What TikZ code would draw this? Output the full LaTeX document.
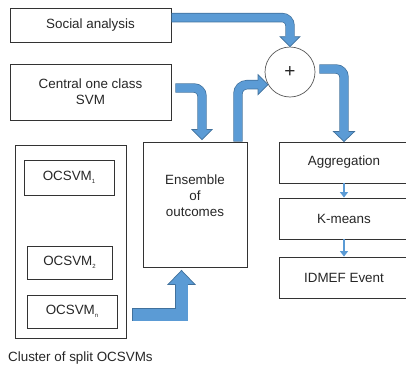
\documentclass[tikz,border=0pt]{standalone}
\usepackage{fontspec}
\setmainfont{Liberation Sans}
\usetikzlibrary{calc,arrows.meta}
\definecolor{afill}{HTML}{5B9BD5}
\definecolor{aline}{HTML}{41719C}
\definecolor{boxline}{HTML}{333333}
\definecolor{txt}{HTML}{262626}
\newcommand\bhead[5]{%
  \begin{scope}[shift={#1}, rotate=#2]
    \fill[afill] (0,0) -- (-#3,#4) -- (-#3,-#4) -- cycle;
    \draw[aline, line width=0.7pt, line join=miter] (-#3,#5) -- (-#3,#4) -- (0,0) -- (-#3,-#4) -- (-#3,-#5);
  \end{scope}}
\newcommand\lowsub[1]{\raisebox{-2.5pt}{\fontsize{6}{6}\selectfont #1}}
\begin{document}
\begin{tikzpicture}[x=1pt,y=-1pt,
  lbl/.style={text=txt, font=\fontsize{13.4}{16}\selectfont, align=center, inner sep=0pt},
  blk/.style={lbl, draw=boxline, line width=0.9pt},
  shaftB/.style={draw=aline, line width=9.4pt},
  shaftF/.style={draw=afill, line width=8pt, shorten <=0.7pt, shorten >=-0.4pt},
  shaftBw/.style={draw=aline, line width=13.4pt},
  shaftFw/.style={draw=afill, line width=12pt, shorten <=0.7pt, shorten >=-0.4pt},
  small/.style={draw=afill, line width=2.8pt, -{Triangle[length=5.5pt,width=8pt]}}]
\clip (0,0) rectangle (406,367);
% boxes
\node[blk, minimum width=161pt, minimum height=34pt] (soc) at (90.5,25) {Social analysis};
\node[blk, minimum width=161pt, minimum height=56pt] (cen) at (90.5,92) {Central one class\\SVM};
\node[circle, draw=black!65, line width=0.7pt, minimum size=50pt, inner sep=0pt, text=txt, font=\fontsize{19}{19}\selectfont] (circ) at (290,72) {+};
\node[blk, minimum width=111pt, minimum height=193pt] (clu) at (70.5,241.5) {};
\node[blk, minimum width=90pt, minimum height=35pt] (o1) at (69,177.5) {OCSVM\lowsub{1}};
\node[blk, minimum width=85pt, minimum height=33pt] (o2) at (69.5,262.5) {OCSVM\lowsub{2}};
\node[blk, minimum width=90pt, minimum height=33pt] (on) at (72,311.5) {OCSVM\lowsub{n}};
\node[blk, minimum width=104pt, minimum height=125pt] (ens) at (195,204.5) {};
\node[lbl] (enst) at (195,195.5) {Ensemble\\of\\outcomes};
\node[blk, minimum width=130pt, minimum height=41pt] (agg) at (344,162.5) {Aggregation};
\node[blk, minimum width=130pt, minimum height=41pt] (km) at (344,218.5) {K-means};
\node[blk, minimum width=130pt, minimum height=41pt] (idm) at (344,277.5) {IDMEF Event};
\node[lbl, anchor=base west] (cap) at (8,361) {Cluster of split OCSVMs};
% arrow 1: social analysis -> circle
\coordinate (a1s) at ($(soc.north east)+(0,10)$);
\coordinate (a1e) at ($(circ.north)+(0,-10)$);
\draw[shaftB, rounded corners=8pt] (a1s) -| (a1e);
\draw[shaftF, rounded corners=8pt] (a1s) -| (a1e);
\bhead{(circ.north)}{-90}{10}{10}{4.3}
% arrow 2: central svm -> ensemble
\coordinate (a2s) at ($(cen.east)+(4,-4)$);
\coordinate (a2t) at ($(ens.north)+(7,-2)$);
\coordinate (a2e) at ($(a2t)+(0,-10)$);
\draw[shaftB, rounded corners=8pt] (a2s) -| (a2e);
\draw[shaftF, rounded corners=8pt] (a2s) -| (a2e);
\bhead{(a2t)}{-90}{10}{10}{4.3}
% arrow 3: ensemble -> circle
\coordinate (a3s) at ($(ens.north east)+(-9.5,0)$);
\coordinate (a3t) at (circ.210);
\coordinate (a3e) at ($(a3t)+(-10,0)$);
\draw[shaftB, rounded corners=9pt] (a3s) |- (a3e);
\draw[shaftF, rounded corners=9pt] (a3s) |- (a3e);
\bhead{(a3t)}{0}{10}{10}{4.3}
% arrow 4: circle -> aggregation
\coordinate (a4s) at ($(circ.east)+(4,-3)$);
\coordinate (a4e) at ($(agg.north)+(0,-10)$);
\draw[shaftB, rounded corners=8pt] (a4s) -| (a4e);
\draw[shaftF, rounded corners=8pt] (a4s) -| (a4e);
\bhead{(agg.north)}{-90}{10}{10.5}{4.3}
% arrow 5: cluster -> ensemble
\coordinate (a5s) at ($(clu.east)+(6,73)$);
\coordinate (a5t) at ($(ens.south)+(-13.5,3)$);
\coordinate (a5e) at ($(a5t)+(0,14)$);
\draw[shaftBw] (a5s) -| (a5e);
\draw[shaftFw] (a5s) -| (a5e);
\bhead{(a5t)}{90}{14}{13.5}{6.3}
% small arrows
\draw[small] (agg.south) -- (km.north);
\draw[small] (km.south) -- (idm.north);
\end{tikzpicture}
\end{document}
